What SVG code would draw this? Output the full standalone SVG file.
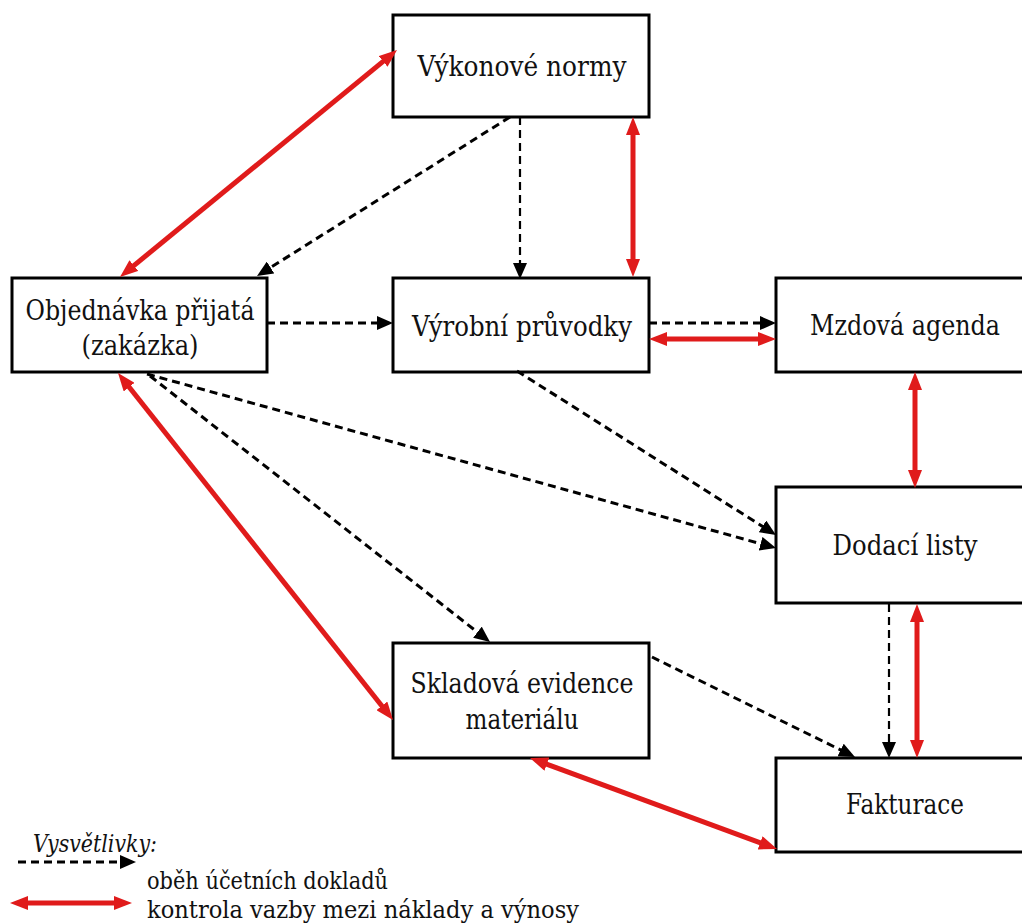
<svg xmlns="http://www.w3.org/2000/svg" width="1022" height="923" viewBox="0 0 1022 923">
<defs>
<style>
.box{fill:#fff;stroke:#000;stroke-width:3}
.lbl{font-family:"DejaVu Serif",serif;font-size:27px;fill:#111;text-anchor:middle}
.leg{font-family:"DejaVu Serif",serif;font-size:25px;fill:#111}
.red{stroke:#e01b1b;stroke-width:5;fill:none;marker-start:url(#rh);marker-end:url(#rh)}
.doc{stroke:#000;stroke-width:3;fill:none;stroke-dasharray:8 5;marker-end:url(#bh)}
.docv{stroke:#000;stroke-width:2.2;fill:none;stroke-dasharray:8 5;marker-end:url(#bh)}
</style>
<marker id="rh" markerUnits="userSpaceOnUse" markerWidth="18" markerHeight="14" refX="4" refY="7" orient="auto-start-reverse" viewBox="0 0 18 14">
<path d="M0,0 L18,7 L0,14 z" fill="#e01b1b"/>
</marker>
<marker id="bh" markerUnits="userSpaceOnUse" markerWidth="16" markerHeight="14" refX="3" refY="7" orient="auto" viewBox="0 0 16 14">
<path d="M0,0 L16,7 L0,14 z" fill="#000"/>
</marker>
</defs>
<rect width="1022" height="923" fill="#fff"/>

<g id="vykonove-normy">
<rect class="box" x="393" y="15" width="256" height="102"/>
<text class="lbl" x="522" y="76" textLength="209" lengthAdjust="spacingAndGlyphs">Výkonové normy</text>
</g>
<g id="objednavka">
<rect class="box" x="12" y="278" width="255" height="94"/>
<text class="lbl" x="140" y="320" textLength="229" lengthAdjust="spacingAndGlyphs">Objednávka přijatá</text>
<text class="lbl" x="140" y="355" textLength="117" lengthAdjust="spacingAndGlyphs">(zakázka)</text>
</g>
<g id="vyrobni-pruvodky">
<rect class="box" x="393" y="278" width="256" height="94"/>
<text class="lbl" x="522" y="336" textLength="220" lengthAdjust="spacingAndGlyphs">Výrobní průvodky</text>
</g>
<g id="mzdova-agenda">
<rect class="box" x="776" y="278" width="258" height="94"/>
<text class="lbl" x="905" y="335" textLength="190" lengthAdjust="spacingAndGlyphs">Mzdová agenda</text>
</g>
<g id="dodaci-listy">
<rect class="box" x="776" y="487" width="258" height="116"/>
<text class="lbl" x="905" y="555" textLength="145" lengthAdjust="spacingAndGlyphs">Dodací listy</text>
</g>
<g id="skladova-evidence">
<rect class="box" x="393" y="643" width="256" height="115"/>
<text class="lbl" x="522" y="693" textLength="223" lengthAdjust="spacingAndGlyphs">Skladová evidence</text>
<text class="lbl" x="522" y="729" textLength="113" lengthAdjust="spacingAndGlyphs">materiálu</text>
</g>
<g id="fakturace">
<rect class="box" x="776" y="758" width="258" height="94"/>
<text class="lbl" x="905" y="814" textLength="118" lengthAdjust="spacingAndGlyphs">Fakturace</text>
</g>

<g id="connectors">
<line class="red" x1="130.8" y1="268.1" x2="386.2" y2="58.9"/>
<line class="red" x1="633" y1="131" x2="633" y2="263"/>
<line class="red" x1="663" y1="339" x2="762" y2="339"/>
<line class="red" x1="915" y1="386" x2="915" y2="474"/>
<line class="red" x1="917" y1="618" x2="917" y2="744"/>
<line class="red" x1="126.7" y1="384" x2="384.3" y2="709"/>
<line class="red" x1="543.1" y1="762.8" x2="763.9" y2="844.2"/>

<line class="doc" x1="510" y1="117" x2="268" y2="269.1"/>
<line class="docv" x1="520" y1="117" x2="520" y2="266"/>
<line class="doc" x1="267" y1="323" x2="380" y2="323"/>
<line class="doc" x1="649" y1="323" x2="763" y2="323"/>
<line class="doc" x1="517" y1="371" x2="765" y2="528"/>
<line class="doc" x1="147" y1="374" x2="763.5" y2="544.5"/>
<line class="doc" x1="150" y1="376" x2="479.8" y2="634"/>
<line class="doc" x1="652" y1="657" x2="843.3" y2="751.3"/>
<line class="docv" x1="889" y1="604" x2="889" y2="745"/>
</g>

<g id="legend">
<text class="leg" x="33" y="852" font-style="italic" textLength="124" lengthAdjust="spacingAndGlyphs">Vysvětlivky:</text>
<line class="doc" x1="18" y1="862" x2="123" y2="862"/>
<text class="leg" x="147" y="889" textLength="241" lengthAdjust="spacingAndGlyphs">oběh účetních dokladů</text>
<line class="red" x1="24" y1="903" x2="118" y2="903"/>
<text class="leg" x="147" y="918" textLength="432" lengthAdjust="spacingAndGlyphs">kontrola vazby mezi náklady a výnosy</text>
</g>
</svg>
